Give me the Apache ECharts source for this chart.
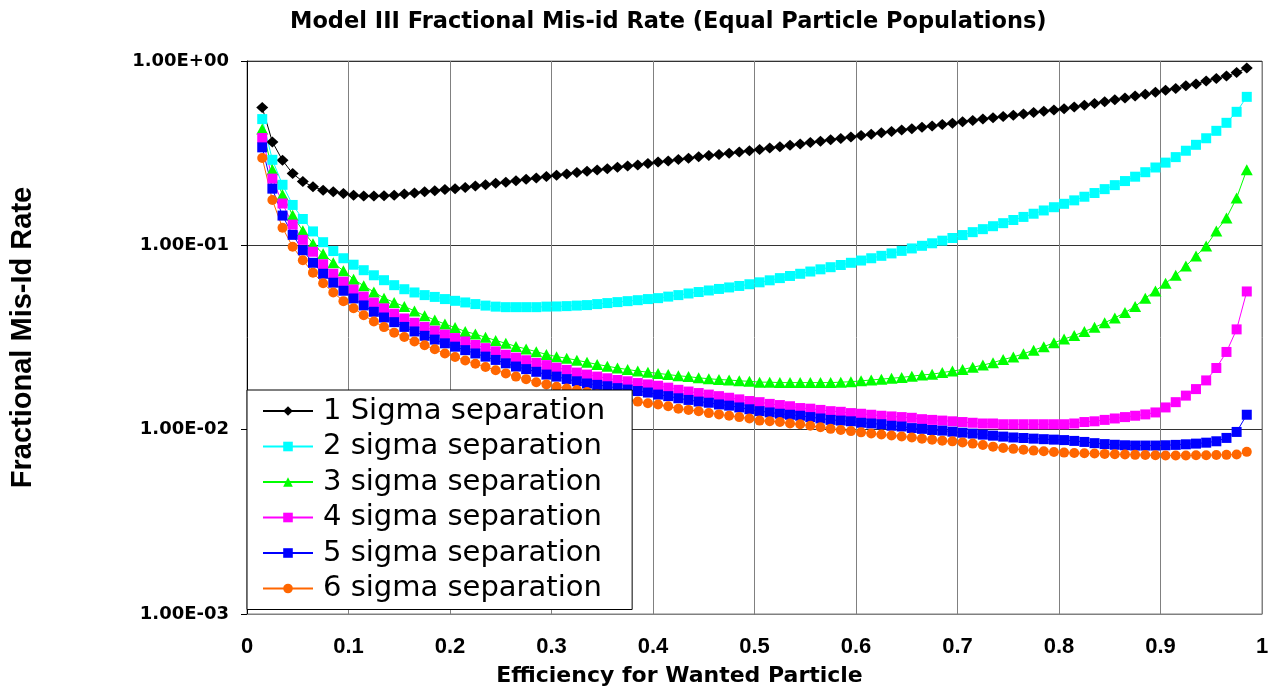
<!DOCTYPE html>
<html>
<head>
<meta charset="utf-8">
<title>Model III Fractional Mis-id Rate</title>
<script src="https://cdn.jsdelivr.net/npm/echarts@6.0.0/dist/echarts.min.js"></script>
<style>
  html, body { margin: 0; padding: 0; background: #fff; }
  #chart { width: 1280px; height: 692px; }
</style>
</head>
<body>
<div id="chart"></div>
<script>
// efficiency for wanted particle (x of every point)
const efficiency = [
  0.015, 0.025, 0.035, 0.045, 0.055, 0.065, 0.075, 0.085, 0.095, 0.105,
  0.115, 0.125, 0.135, 0.145, 0.155, 0.165, 0.175, 0.185, 0.195, 0.205,
  0.215, 0.225, 0.235, 0.245, 0.255, 0.265, 0.275, 0.285, 0.295, 0.305,
  0.315, 0.325, 0.335, 0.345, 0.355, 0.365, 0.375, 0.385, 0.395, 0.405,
  0.415, 0.425, 0.435, 0.445, 0.455, 0.465, 0.475, 0.485, 0.495, 0.505,
  0.515, 0.525, 0.535, 0.545, 0.555, 0.565, 0.575, 0.585, 0.595, 0.605,
  0.615, 0.625, 0.635, 0.645, 0.655, 0.665, 0.675, 0.685, 0.695, 0.705,
  0.715, 0.725, 0.735, 0.745, 0.755, 0.765, 0.775, 0.785, 0.795, 0.805,
  0.815, 0.825, 0.835, 0.845, 0.855, 0.865, 0.875, 0.885, 0.895, 0.905,
  0.915, 0.925, 0.935, 0.945, 0.955, 0.965, 0.975, 0.985
]

// fractional mis-id rate, one list per separation
const sigma1 = [
  0.559, 0.364, 0.289, 0.245, 0.222, 0.208, 0.199, 0.195, 0.191, 0.187,
  0.185, 0.185, 0.186, 0.187, 0.19, 0.192, 0.195, 0.198, 0.201, 0.203,
  0.206, 0.21, 0.213, 0.217, 0.22, 0.224, 0.228, 0.232, 0.236, 0.24,
  0.244, 0.248, 0.252, 0.256, 0.26, 0.265, 0.269, 0.273, 0.278, 0.283,
  0.287, 0.292, 0.297, 0.302, 0.307, 0.311, 0.316, 0.321, 0.326, 0.331,
  0.337, 0.343, 0.349, 0.355, 0.361, 0.367, 0.374, 0.38, 0.387, 0.394,
  0.401, 0.408, 0.415, 0.422, 0.429, 0.437, 0.444, 0.452, 0.46, 0.468,
  0.476, 0.484, 0.492, 0.5, 0.508, 0.516, 0.525, 0.534, 0.543, 0.551,
  0.563, 0.576, 0.589, 0.602, 0.616, 0.63, 0.645, 0.66, 0.676, 0.695,
  0.71, 0.733, 0.751, 0.78, 0.804, 0.83, 0.866, 0.917
]
const sigma2 = [
  0.484, 0.291, 0.213, 0.1656, 0.139, 0.119, 0.104, 0.0931, 0.0851, 0.0785,
  0.0733, 0.0688, 0.0647, 0.0608, 0.0578, 0.0555, 0.0537, 0.0525, 0.0511, 0.05,
  0.049, 0.048, 0.0471, 0.0465, 0.0462, 0.0462, 0.0462, 0.0462, 0.0465, 0.0466,
  0.0468, 0.0471, 0.0474, 0.048, 0.0486, 0.0492, 0.0498, 0.0504, 0.0511, 0.0517,
  0.0527, 0.0537, 0.0548, 0.0558, 0.0569, 0.058, 0.0591, 0.0602, 0.0615, 0.063,
  0.0646, 0.0664, 0.0682, 0.0701, 0.0721, 0.0741, 0.0761, 0.0782, 0.0804, 0.0827,
  0.0851, 0.0877, 0.0904, 0.0933, 0.0962, 0.0994, 0.1026, 0.106, 0.1096, 0.1137,
  0.1179, 0.1224, 0.127, 0.1319, 0.1372, 0.1426, 0.1484, 0.1546, 0.161, 0.168,
  0.1754, 0.1835, 0.1922, 0.2018, 0.2121, 0.2232, 0.2357, 0.2493, 0.2644, 0.281,
  0.301, 0.326, 0.351, 0.381, 0.418, 0.462, 0.53, 0.639
]
const sigma3 = [
  0.427, 0.257, 0.188, 0.1454, 0.12, 0.1021, 0.09, 0.0804, 0.0727, 0.0655,
  0.0603, 0.0559, 0.0517, 0.049, 0.0466, 0.0441, 0.0415, 0.0393, 0.0374, 0.0358,
  0.0341, 0.033, 0.0317, 0.0305, 0.0294, 0.0283, 0.0274, 0.0265, 0.0256, 0.0249,
  0.0244, 0.0238, 0.0232, 0.0226, 0.0221, 0.0216, 0.0212, 0.0208, 0.0205, 0.0202,
  0.0199, 0.0196, 0.0194, 0.0191, 0.0189, 0.0187, 0.0186, 0.0184, 0.0183, 0.0181,
  0.0181, 0.018, 0.018, 0.018, 0.018, 0.018, 0.018, 0.0181, 0.0182, 0.0184,
  0.0186, 0.0188, 0.019, 0.0192, 0.0195, 0.0198, 0.02, 0.0204, 0.0208, 0.0212,
  0.0218, 0.0224, 0.0231, 0.024, 0.0248, 0.0258, 0.027, 0.0282, 0.0296, 0.031,
  0.0324, 0.0341, 0.0359, 0.038, 0.0404, 0.0432, 0.0466, 0.0517, 0.0566, 0.0623,
  0.0688, 0.0773, 0.0875, 0.0991, 0.1195, 0.1409, 0.1808, 0.257
]
const sigma4 = [
  0.382, 0.2302, 0.1686, 0.1296, 0.1071, 0.0923, 0.079, 0.0701, 0.0635, 0.0576,
  0.0527, 0.0489, 0.0455, 0.0426, 0.0401, 0.038, 0.0361, 0.0344, 0.0328, 0.0314,
  0.0301, 0.0288, 0.0277, 0.0266, 0.0255, 0.0246, 0.0238, 0.023, 0.0224, 0.0217,
  0.0211, 0.0204, 0.0199, 0.0194, 0.019, 0.0186, 0.0183, 0.0179, 0.0176, 0.0173,
  0.0169, 0.01645, 0.0161, 0.0158, 0.0155, 0.0152, 0.0149, 0.0146, 0.0143, 0.0141,
  0.0138, 0.0136, 0.0134, 0.0131, 0.013, 0.0128, 0.0126, 0.0125, 0.0123, 0.0122,
  0.01205, 0.0119, 0.0118, 0.0117, 0.0116, 0.0114, 0.0113, 0.0112, 0.0111, 0.011,
  0.0109, 0.0108, 0.0108, 0.0107, 0.0107, 0.0107, 0.0107, 0.0107, 0.0107, 0.0107,
  0.0108, 0.011, 0.0111, 0.0113, 0.0115, 0.0117, 0.0119, 0.0121, 0.0124, 0.0132,
  0.0141, 0.0153, 0.0166, 0.0185, 0.0216, 0.0264, 0.035, 0.0562
]
const sigma5 = [
  0.34, 0.203, 0.145, 0.114, 0.094, 0.0804, 0.0701, 0.0627, 0.0567, 0.0515,
  0.0472, 0.0436, 0.0406, 0.0383, 0.0361, 0.0341, 0.0323, 0.0308, 0.0294, 0.0282,
  0.027, 0.0259, 0.0249, 0.0239, 0.0229, 0.022, 0.0213, 0.0206, 0.0199, 0.0194,
  0.0188, 0.0183, 0.0178, 0.0175, 0.0172, 0.0168, 0.0165, 0.0162, 0.0159, 0.0155,
  0.0152, 0.0148, 0.0145, 0.0142, 0.014, 0.0137, 0.0135, 0.0132, 0.0129, 0.0126,
  0.0124, 0.0122, 0.01205, 0.0119, 0.0117, 0.0115, 0.0113, 0.0112, 0.0111, 0.0109,
  0.0108, 0.0107, 0.0105, 0.0104, 0.0102, 0.0101, 0.00996, 0.00988, 0.00975, 0.00963,
  0.00952, 0.0094, 0.00928, 0.00917, 0.00907, 0.00901, 0.00894, 0.00888, 0.00883, 0.00878,
  0.00869, 0.00858, 0.00845, 0.00835, 0.00828, 0.00823, 0.0082, 0.0082, 0.0082, 0.00823,
  0.00827, 0.00833, 0.0084, 0.0085, 0.00865, 0.00902, 0.00972, 0.01205
]
const sigma6 = [
  0.298, 0.176, 0.1245, 0.0982, 0.083, 0.0711, 0.0623, 0.0555, 0.0498, 0.0456,
  0.0418, 0.0386, 0.036, 0.0336, 0.0318, 0.0301, 0.0287, 0.0273, 0.0259, 0.0248,
  0.0237, 0.0228, 0.0219, 0.021, 0.0202, 0.0194, 0.0188, 0.0181, 0.0176, 0.0171,
  0.0167, 0.0164, 0.016, 0.0155, 0.0152, 0.0148, 0.0145, 0.0142, 0.0139, 0.0137,
  0.0134, 0.013, 0.0128, 0.0126, 0.0123, 0.0121, 0.0119, 0.0117, 0.0115, 0.0112,
  0.0111, 0.011, 0.0108, 0.0107, 0.0105, 0.0103, 0.0101, 0.00996, 0.00982, 0.00967,
  0.00954, 0.00942, 0.0093, 0.00919, 0.00907, 0.00894, 0.00883, 0.00872, 0.00864, 0.00853,
  0.0084, 0.00825, 0.00809, 0.00796, 0.00787, 0.00778, 0.0077, 0.00763, 0.00756, 0.00751,
  0.00747, 0.00745, 0.00742, 0.00739, 0.00736, 0.00733, 0.0073, 0.00728, 0.00726, 0.00724,
  0.00724, 0.00724, 0.00726, 0.00727, 0.00729, 0.0073, 0.00733, 0.00758
]

const seriesNames = [
  '1 Sigma separation', '2 sigma separation', '3 sigma separation',
  '4 sigma separation', '5 sigma separation', '6 sigma separation'
]
const seriesValues = [sigma1, sigma2, sigma3, sigma4, sigma5, sigma6]
const seriesColors = ['#000000', '#00ffff', '#00ff00', '#ff00ff', '#0000ff', '#ff6600']
const seriesSymbols = ['diamond', 'rect', 'triangle', 'rect', 'rect', 'circle']
const symbolSizes = [[12, 11], 10, [12, 11], 10, 10, 10]

// 1.00E-02 style labels
function sciLabel(v) {
  let e = Math.round(Math.log10(v))
  let m = (v / Math.pow(10, e)).toFixed(2)
  let sign = e < 0 ? '-' : '+'
  return m + 'E' + sign + String(Math.abs(e)).padStart(2, '0')
}

let myChart = echarts.init(document.getElementById('chart'), null, { renderer: 'canvas' })

myChart.setOption({
  animation: false,
  backgroundColor: '#fff',
  title: {
    text: 'Model III Fractional Mis-id Rate (Equal Particle Populations)',
    left: 285,
    top: 6,
    textStyle: {
      fontFamily: 'DejaVu Sans',
      fontWeight: 'bold',
      fontSize: 22.5,
      color: '#000'
    }
  },
  grid: {
    left: 245,
    right: 18,
    top: 61,
    bottom: 76,
    show: true,
    borderColor: '#808080',
    borderWidth: 1,
    backgroundColor: '#fff'
  },
  legend: {
    orient: 'vertical',
    left: 247,
    top: 390,
    padding: [6, 27, 6, 15],
    itemGap: 5.5,
    itemWidth: 50,
    itemHeight: 12,
    backgroundColor: '#fff',
    borderColor: '#000',
    borderWidth: 1,
    textStyle: {
      fontFamily: 'DejaVu Sans',
      fontSize: 29,
      lineHeight: 30,
      color: '#000',
      padding: [0, 0, 0, 5]
    },
    data: seriesNames
  },
  xAxis: {
    type: 'value',
    min: 0,
    max: 1,
    interval: 0.1,
    name: 'Efficiency for Wanted Particle',
    nameLocation: 'middle',
    nameGap: 51,
    nameTextStyle: {
      fontFamily: 'DejaVu Sans',
      fontWeight: 'bold',
      fontSize: 22,
      color: '#000',
      padding: [0, 150, 0, 0]
    },
    axisLine: { lineStyle: { color: '#808080', width: 1 } },
    axisTick: { show: false },
    axisLabel: {
      margin: 22,
      fontFamily: 'Liberation Sans',
      fontWeight: 'bold',
      fontSize: 22,
      color: '#000',
      showMaxLabel: true,
      formatter: function (v) {
        if (v === 0) return '0'
        if (v === 1) return '1'
        return v.toFixed(1)
      }
    },
    splitLine: { show: true, lineStyle: { color: '#808080', width: 1 } }
  },
  yAxis: {
    type: 'log',
    logBase: 10,
    min: 0.001,
    max: 1,
    name: 'Fractional Mis-Id Rate',
    nameLocation: 'middle',
    nameRotate: 90,
    nameGap: 210,
    nameTextStyle: {
      fontFamily: 'Liberation Sans',
      fontWeight: 'bold',
      fontSize: 29,
      color: '#000'
    },
    axisLine: { show: true, lineStyle: { color: '#000', width: 1 } },
    axisTick: { show: true, length: 6, lineStyle: { color: '#000' } },
    axisLabel: {
      margin: 18,
      fontFamily: 'DejaVu Sans',
      fontWeight: 'bold',
      fontSize: 18,
      color: '#000',
      formatter: sciLabel
    },
    splitLine: { show: true, lineStyle: { color: '#333', width: 1 } },
    minorTick: { show: false },
    minorSplitLine: { show: false }
  },
  series: seriesNames.map(function (name, i) {
    return {
      name: name,
      type: 'line',
      data: efficiency.map(function (x, j) { return [x, seriesValues[i][j]] }),
      symbol: seriesSymbols[i],
      symbolSize: symbolSizes[i],
      showAllSymbol: true,
      color: seriesColors[i],
      itemStyle: { color: seriesColors[i] },
      lineStyle: { color: seriesColors[i], width: 1 }
    }
  })
})
</script>
</body>
</html>
